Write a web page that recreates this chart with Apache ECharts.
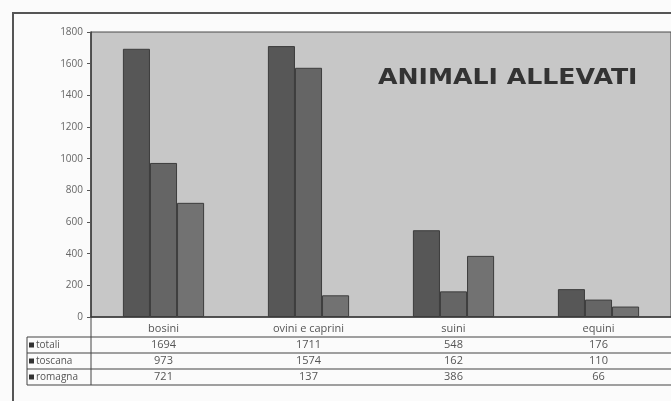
<!DOCTYPE html>
<html>
<head>
<meta charset="utf-8">
<script src="https://cdn.jsdelivr.net/npm/echarts@6/dist/echarts.min.js"></script>
<style>
  html, body { margin: 0; padding: 0; background: #fbfbfb; }
  #chart { width: 671px; height: 401px; }
</style>
</head>
<body>
<div id="chart"></div>
<script>
// Livestock counts by category
const categories = ['bosini', 'ovini e caprini', 'suini', 'equini'];
const seriesNames = ['totali', 'toscana', 'romagna'];
const totali = [1694, 1711, 548, 176];
const toscana = [973, 1574, 162, 110];
const romagna = [721, 137, 386, 66];
const yTicks = [0, 200, 400, 600, 800, 1000, 1200, 1400, 1600, 1800];

const rows = [totali, toscana, romagna];
const colors = ['#575757', '#656565', '#727272'];

const chart = echarts.init(document.getElementById('chart'), null, { renderer: 'canvas' });

const GRID_LEFT = 91, GRID_TOP = 32, GRID_BOTTOM = 84, GRID_W = 584;

chart.setOption({
  animation: false,
  backgroundColor: '#fbfbfb',
  textStyle: { fontFamily: 'Open Sans' },
  grid: {
    left: GRID_LEFT, top: GRID_TOP, bottom: GRID_BOTTOM, width: GRID_W,
    show: true, backgroundColor: '#c7c7c7', borderColor: '#4a4a4a', borderWidth: 1
  },
  xAxis: {
    type: 'category',
    data: categories,
    axisLine: { lineStyle: { color: '#3a3a3a', width: 1.5 } },
    axisTick: { show: false },
    axisLabel: { color: '#555', fontSize: 11, margin: 6 }
  },
  yAxis: {
    type: 'value',
    min: yTicks[0], max: yTicks[yTicks.length - 1], interval: 200,
    splitLine: { show: false },
    axisLine: { show: true, lineStyle: { color: '#3a3a3a', width: 1.5 } },
    axisTick: { show: true, length: 4, lineStyle: { color: '#555' } },
    axisLabel: { color: '#666', fontSize: 10, margin: 8, formatter: v => String(v) }
  },
  series: seriesNames.map((name, i) => ({
    name,
    type: 'bar',
    data: rows[i],
    barGap: '0%',
    barCategoryGap: '44%',
    itemStyle: { color: colors[i], borderColor: '#3c3c3c', borderWidth: 1 }
  }))
});

// Data table under the axis, aligned to the category positions
function drawTable() {
  const g = [];
  const rowTop = 337, rowH = 16;
  const tableLeft = 27;
  // outer frame of the page
  g.push({ type: 'rect', shape: { x: 13, y: 13, width: 700, height: 420 },
           style: { fill: null, stroke: '#555', lineWidth: 2 }, silent: true });
  // left vertical line continuing the value axis through the table
  g.push({ type: 'line', shape: { x1: GRID_LEFT, y1: 317, x2: GRID_LEFT, y2: rowTop + rowH * 3 },
           style: { stroke: '#444', lineWidth: 1 } });
  for (let r = 0; r <= 3; r++) {
    const y = rowTop + r * rowH;
    g.push({ type: 'line', shape: { x1: tableLeft, y1: y, x2: 680, y2: y },
             style: { stroke: '#444', lineWidth: 1.2 } });
  }
  g.push({ type: 'line', shape: { x1: tableLeft, y1: rowTop, x2: tableLeft, y2: rowTop + rowH * 3 },
           style: { stroke: '#444', lineWidth: 1 } });
  rows.forEach((vals, r) => {
    const cy = rowTop + r * rowH + rowH / 2;
    g.push({ type: 'rect', shape: { x: 29, y: cy - 2.5, width: 5, height: 5 },
             style: { fill: '#333' } });
    g.push({ type: 'text', x: 36, y: cy,
             style: { text: seriesNames[r], fill: '#555', fontSize: 10, fontFamily: 'Open Sans',
                      textVerticalAlign: 'middle', textAlign: 'left' } });
    vals.forEach((v, c) => {
      const px = chart.convertToPixel({ xAxisIndex: 0 }, categories[c]);
      g.push({ type: 'text', x: px, y: cy,
               style: { text: String(v), fill: '#555', fontSize: 11, fontFamily: 'Open Sans',
                        textAlign: 'center', textVerticalAlign: 'middle' } });
    });
  });
  // chart heading inside the plot area, stretched horizontally
  g.push({ type: 'text', x: 378, y: 68, scaleX: 1.2,
           style: { text: 'ANIMALI ALLEVATI', fill: '#333', fontSize: 21, fontWeight: 'bold',
                    fontFamily: 'DejaVu Sans', textAlign: 'left', textVerticalAlign: 'top' } });
  chart.setOption({ graphic: g });
}
drawTable();
</script>
</body>
</html>
